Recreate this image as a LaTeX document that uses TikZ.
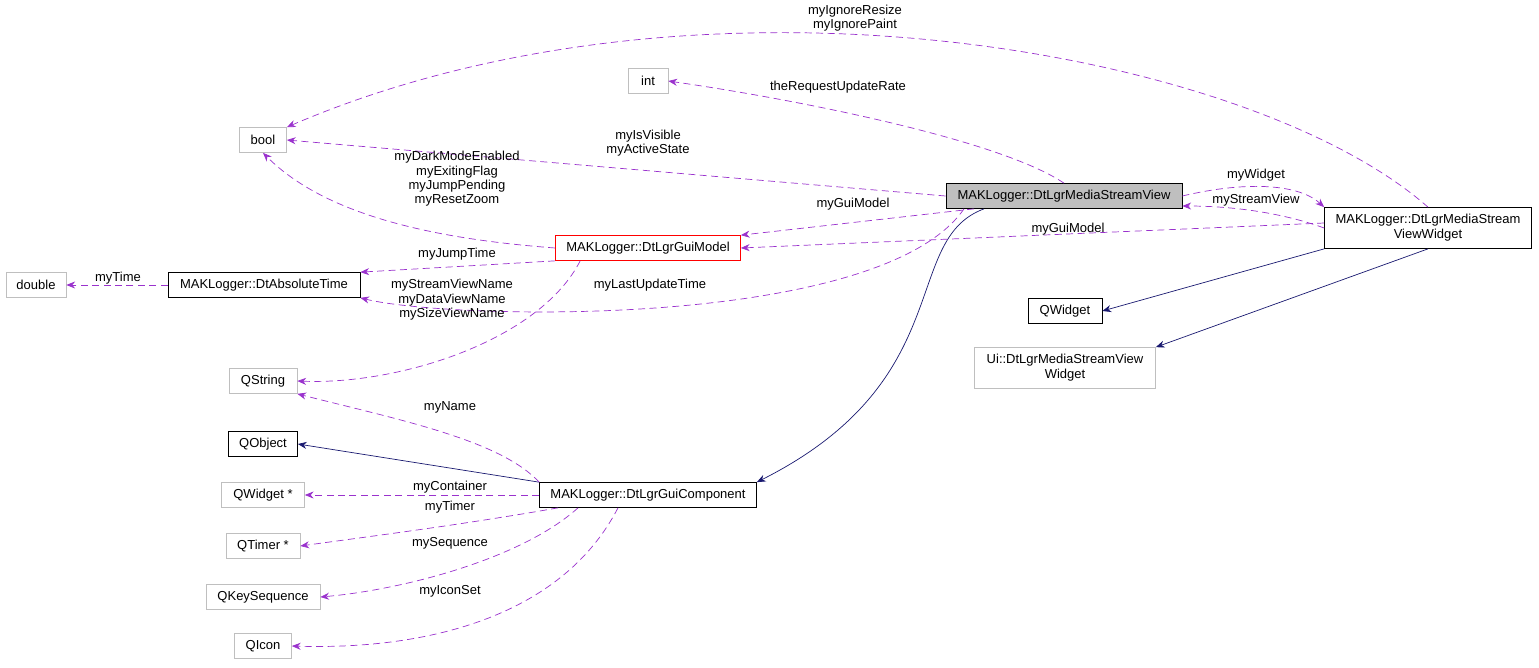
\documentclass[tikz,border=0pt]{standalone}
\usepackage{fontspec}
\setmainfont{Liberation Sans}
\usetikzlibrary{arrows.meta}
\definecolor{edgepurple}{HTML}{9A32CD}
\definecolor{edgenavy}{HTML}{191970}
\definecolor{boxgray}{HTML}{BFBFBF}
\tikzset{
  cls/.style={draw=black, thin, font=\fontsize{7.4}{8.4}\selectfont, inner sep=1pt, minimum height=0.5cm, align=center},
  ext/.style={cls, draw=boxgray},
  use/.style={draw=edgepurple, dash pattern=on 4pt off 2.5pt, -{Stealth[length=5pt,width=4pt]}},
  inh/.style={draw=edgenavy, -{Stealth[length=5pt,width=4pt]}},
  lbl/.style={font=\fontsize{7.4}{8.2}\selectfont, align=center, inner sep=0pt}
}
\begin{document}
\begin{tikzpicture}[x=0.02cm, y=-0.02cm]
  \useasboundingbox (0,0) rectangle (1539,667);
  % classes
  \node[ext, minimum width=0.8cm] (int) at (648,81) {int};
  \node[ext, minimum width=0.94cm] (bool) at (263,140) {bool};
  \node[ext, minimum width=1.2cm] (double) at (36,285) {double};
  \node[cls, minimum width=3.84cm] (abstime) at (264,285) {MAKLogger::DtAbsoluteTime};
  \node[cls, draw=red, minimum width=3.7cm] (guimodel) at (648,248) {MAKLogger::DtLgrGuiModel};
  \node[cls, fill=boxgray, minimum width=4.72cm] (view) at (1064,196) {MAKLogger::DtLgrMediaStreamView};
  \node[cls, minimum width=4.14cm, minimum height=0.82cm] (widget) at (1428,228) {MAKLogger::DtLgrMediaStream\\ViewWidget};
  \node[cls, minimum width=1.48cm] (qwidget) at (1065,311) {QWidget};
  \node[ext, minimum width=3.62cm, minimum height=0.82cm] (ui) at (1065,368) {Ui::DtLgrMediaStreamView\\Widget};
  \node[ext, minimum width=1.36cm] (qstring) at (263,381) {QString};
  \node[cls, minimum width=1.38cm] (qobject) at (263,444) {QObject};
  \node[ext, minimum width=1.66cm] (qwidgetp) at (263,495) {QWidget *};
  \node[cls, minimum width=4.34cm] (component) at (648,495) {MAKLogger::DtLgrGuiComponent};
  \node[ext, minimum width=1.48cm] (qtimer) at (263,546) {QTimer *};
  \node[ext, minimum width=2.28cm] (qkeyseq) at (263,597) {QKeySequence};
  \node[ext, minimum width=1.14cm] (qicon) at (263,646) {QIcon};

  % inheritance
  \draw[inh] ([xshift=-1.6cm]view.south) .. controls (900,240) and (960,380) .. (component.north east) ;
  \draw[inh] (component.north west) -- (qobject.east);
  \draw[inh] (widget.south west) -- (qwidget.east);
  \draw[inh] (widget.south) -- (ui.north east);

  % members
  \draw[use] (view.north) .. controls (1000,140) and (800,100) .. (int.east);
  \node[lbl] (l1) at (838,87) {theRequestUpdateRate};
  \draw[use] (view.west) -- (bool.east);
  \node[lbl] (l2) at (648,143) {myIsVisible\\myActiveState};
  \draw[use] (widget.north) .. controls (1250,50) and (700,-50) .. (bool.north east);
  \node[lbl] (l3) at (855,18) {myIgnoreResize\\myIgnorePaint};
  \draw[use] (view.east) .. controls (1250,180) and (1300,185) .. (widget.north west);
  \node[lbl] (l4) at (1256,175) {myWidget};
  \draw[use] (widget.west) .. controls (1280,212) and (1230,206) .. ([yshift=-0.2cm]view.east);
  \node[lbl] (l5) at (1256,200) {myStreamView};
  \draw[use] ([xshift=-1.8cm]view.south) -- (guimodel.north east);
  \node[lbl] (l6) at (853,204) {myGuiModel};
  \draw[use] ([yshift=0.1cm]widget.west) -- (guimodel.east);
  \node[lbl] (l7) at (1068,229) {myGuiModel};
  \draw[use] (guimodel.west) .. controls (450,240) and (330,220) .. (bool.south);
  \node[lbl] (l8) at (457,179) {myDarkModeEnabled\\myExitingFlag\\myJumpPending\\myResetZoom};
  \draw[use] (guimodel.south west) -- (abstime.north east);
  \node[lbl] (l9) at (457,254) {myJumpTime};
  \draw[use] ([xshift=-2cm]view.south) .. controls (880,330) and (450,320) .. (abstime.south east);
  \node[lbl] (l10) at (650,285) {myLastUpdateTime};
  \draw[use] ([xshift=0.5cm]guimodel.south west) .. controls (540,340) and (400,385) .. (qstring.east);
  \node[lbl] (l11) at (452,300) {myStreamViewName\\myDataViewName\\mySizeViewName};
  \draw[use] (abstime.west) -- (double.east);
  \node[lbl] (l12) at (118,278) {myTime};
  \draw[use] (component.north west) .. controls (500,440) and (400,420) .. (qstring.south east);
  \node[lbl] (l13) at (450,407) {myName};
  \draw[use] (component.west) -- (qwidgetp.east);
  \node[lbl] (l14) at (450,487) {myContainer};
  \draw[use] ([xshift=-1.8cm]component.south) .. controls (460,525) and (380,535) .. (qtimer.east);
  \node[lbl] (l15) at (450,507) {myTimer};
  \draw[use] ([xshift=-1.4cm]component.south) .. controls (520,560) and (400,590) .. (qkeyseq.east);
  \node[lbl] (l16) at (450,543) {mySequence};
  \draw[use] ([xshift=-0.6cm]component.south) .. controls (560,620) and (420,650) .. (qicon.east);
  \node[lbl] (l17) at (450,591) {myIconSet};
\end{tikzpicture}
\end{document}
